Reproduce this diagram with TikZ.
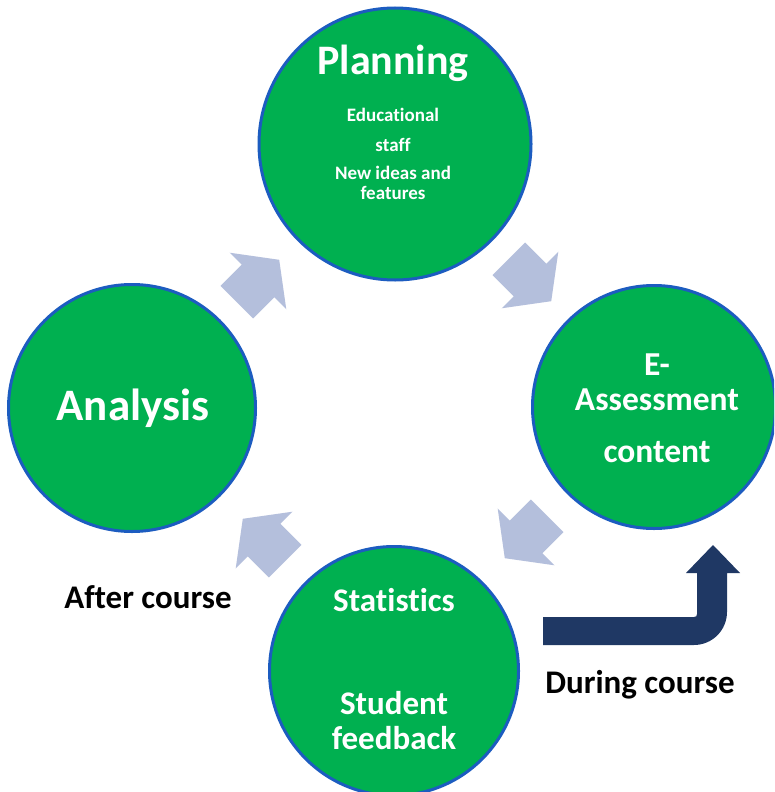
\documentclass[tikz,border=0pt]{standalone}
\usepackage{fontspec}
\setmainfont{Carlito}[Ligatures=NoCommon]
\definecolor{cyclegreen}{RGB}{0,176,80}
\definecolor{rimblue}{RGB}{28,92,192}
\definecolor{stepgrey}{RGB}{180,191,220}
\definecolor{coursenavy}{RGB}{31,56,100}

\tikzset{
  stage/.style={circle, fill=cyclegreen, draw=rimblue, line width=3pt, inner sep=0pt},
  intext/.style={text=white, inner sep=0pt, font=\bfseries\fontsize{#1}{#1}\selectfont},
  outtext/.style={text=black, inner sep=0pt, font=\bfseries\fontsize{33}{33}\selectfont},
}

% light block arrow between two stages: centre x, centre y, direction
\newcommand\cyclearrow[3]{%
  \begin{scope}[shift={(#1,#2)}, rotate=#3]
    \fill[stepgrey] (-30,-23) -- (0,-23) -- (0,-40) -- (30,0) -- (0,40) -- (0,23) -- (-30,23) -- cycle;
  \end{scope}}

\begin{document}
\begin{tikzpicture}[x=1pt, y=-1pt]
  \useasboundingbox (0,0) rectangle (774,792);
  \fill[white] (0,0) rectangle (774,792);
  \clip (0,0) rectangle (774,792);

  % the four stages
  \node[stage, minimum size=272] (plan) at (395,144) {};
  \node[stage, minimum size=247] (anal) at (132,408) {};
  \node[stage, minimum size=243] (eass) at (654,407) {};
  \node[stage, minimum size=249] (stat) at (394,671) {};

  % stage texts
  \node[intext=42] (plan-t) at (393,63) {Planning};
  \node[intext=19] (plan-a) at (393,115) {Educational};
  \node[intext=19] (plan-b) at (393,145) {staff};
  \node[intext=19] (plan-c) at (393,173) {New ideas and};
  \node[intext=19] (plan-d) at (393,193) {features};

  \node[intext=45] (anal-t) at (133,408) {Analysis};

  \node[intext=33.5] (eass-a) at (657,365) {E-};
  \node[intext=33.5] (eass-b) at (657,400) {Assessment};
  \node[intext=33.5] (eass-c) at (657,452) {content};

  \node[intext=33] (stat-a) at (394,600) {Statistics};
  \node[intext=33] (stat-b) at (394,703) {Student};
  \node[intext=33] (stat-c) at (394,738) {feedback};

  % cycle arrows
  \cyclearrow{258}{281}{45}
  \cyclearrow{530}{280}{-45}
  \cyclearrow{526}{537}{-135}
  \cyclearrow{264}{540}{135}

  % bent arrow for the in-course loop
  \fill[coursenavy] (543,617) -- (694,617)
    .. controls (696,617) and (697,616) .. (697,614)
    -- (697,573) -- (686,573) -- (713,545) -- (740,573) -- (727,573)
    -- (727,612) .. controls (727,630.2) and (712.2,645) .. (694,645)
    -- (543,645) -- cycle;

  % phase labels
  \node[outtext] (after) at (148,597) {After course};
  \node[outtext] (during) at (640,685) {During course};
\end{tikzpicture}
\end{document}
